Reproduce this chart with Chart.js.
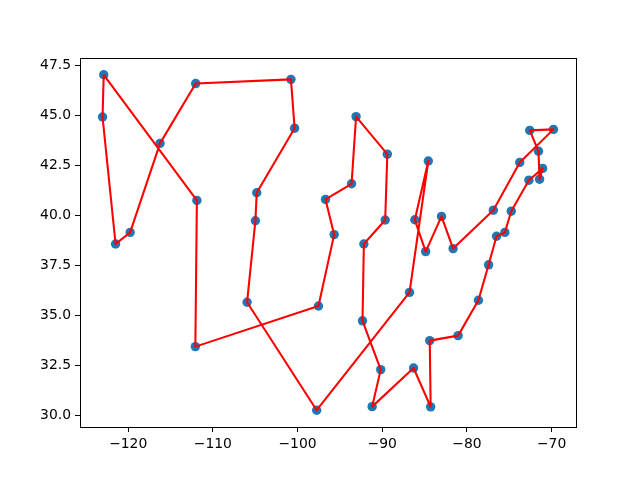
<!DOCTYPE html>
<html>
<head>
<meta charset="utf-8">
<script src="https://cdn.jsdelivr.net/npm/chart.js@4/dist/chart.umd.min.js"></script>
<style>
  html, body { margin: 0; padding: 0; background: #fff; }
  #wrap { width: 640px; height: 480px; }
</style>
</head>
<body>
<div id="wrap"><canvas id="c" width="640" height="480"></canvas></div>
<script>
// Tour order of the 48 state capitals (longitude, latitude)
const cities = ["Olympia","Salem","Sacramento","Carson City","Boise","Helena","Bismarck","Pierre","Cheyenne","Denver","Santa Fe","Austin","Nashville","Lansing","Indianapolis","Frankfort","Columbus","Charleston","Harrisburg","Albany","Augusta","Montpelier","Concord","Providence","Boston","Hartford","Trenton","Dover","Annapolis","Richmond","Raleigh","Columbia","Atlanta","Tallahassee","Montgomery","Baton Rouge","Jackson","Little Rock","Jefferson City","Springfield","Madison","Saint Paul","Des Moines","Lincoln","Topeka","Oklahoma City","Phoenix","Salt Lake City"];
const lon = [-122.89,-123.03,-121.49,-119.77,-116.24,-112.03,-100.78,-100.35,-104.82,-104.98,-105.96,-97.74,-86.78,-84.56,-86.15,-84.87,-83.00,-81.63,-76.88,-73.76,-69.78,-72.58,-71.55,-71.42,-71.06,-72.68,-74.76,-75.52,-76.50,-77.44,-78.64,-81.04,-84.39,-84.28,-86.30,-91.19,-90.18,-92.33,-92.17,-89.65,-89.40,-93.09,-93.62,-96.70,-95.68,-97.53,-112.07,-111.89];
const lat = [47.04,44.93,38.58,39.16,43.61,46.60,46.81,44.37,41.14,39.74,35.67,30.27,36.16,42.73,39.79,38.20,39.96,38.35,40.27,42.66,44.31,44.26,43.22,41.82,42.36,41.77,40.22,39.16,38.97,37.54,35.77,34.00,33.75,30.44,32.38,30.45,32.30,34.74,38.58,39.78,43.07,44.95,41.59,40.81,39.05,35.48,33.45,40.76];
const xTicks = [-120,-110,-100,-90,-80,-70];
const yTicks = [30.0,32.5,35.0,37.5,40.0,42.5,45.0,47.5];

const pts = lon.map((x, i) => ({x: x, y: lat[i]}));
const tour = pts.concat([pts[0]]);

const frame = {
  id: 'frame',
  afterDraw(chart) {
    const a = chart.chartArea, ctx = chart.ctx;
    ctx.save();
    ctx.strokeStyle = '#000';
    ctx.lineWidth = 1;
    ctx.strokeRect(Math.round(a.left) + 0.5, Math.round(a.top) + 0.5,
                   Math.round(a.right - a.left), Math.round(a.bottom - a.top));
    ctx.restore();
  }
};

const fmtMinus = v => (v < 0 ? '\u2212' + Math.abs(v) : String(v));

new Chart(document.getElementById('c'), {
  type: 'scatter',
  data: {
    datasets: [
      {
        data: tour,
        showLine: true,
        borderColor: '#ff0000',
        backgroundColor: '#ff0000',
        borderWidth: 2.08,
        borderJoinStyle: 'round',
        pointRadius: 0,
        pointHoverRadius: 0,
        tension: 0
      },
      {
        data: pts,
        showLine: false,
        pointRadius: 4.7,
        pointBorderWidth: 0,
        pointBackgroundColor: '#1f77b4',
        pointBorderColor: '#1f77b4'
      }
    ]
  },
  options: {
    responsive: false,
    animation: false,
    events: [],
    layout: { padding: { left: 0, top: 58, right: 64, bottom: 0 } },
    plugins: { legend: { display: false }, tooltip: { enabled: false } },
    scales: {
      x: {
        type: 'linear',
        min: -125.6925,
        max: -67.1175,
        afterBuildTicks: s => { s.ticks = xTicks.map(v => ({ value: v })); },
        afterFit: s => { s.height = 53; },
        grid: { drawOnChartArea: false, drawTicks: true, tickLength: 5, color: '#000' },
        border: { display: true, color: '#000', width: 1 },
        ticks: {
          color: '#000',
          padding: 4,
          maxRotation: 0,
          font: { family: 'DejaVu Sans', size: 13.9 },
          callback: v => fmtMinus(v)
        }
      },
      y: {
        type: 'linear',
        min: 29.4315,
        max: 47.8785,
        afterBuildTicks: s => { s.ticks = yTicks.map(v => ({ value: v })); },
        afterFit: s => { s.width = 80; },
        grid: { drawOnChartArea: false, drawTicks: true, tickLength: 5, color: '#000' },
        border: { display: true, color: '#000', width: 1 },
        ticks: {
          color: '#000',
          padding: 4,
          font: { family: 'DejaVu Sans', size: 13.9 },
          callback: v => v.toFixed(1)
        }
      }
    }
  },
  plugins: [frame]
});
</script>
</body>
</html>
